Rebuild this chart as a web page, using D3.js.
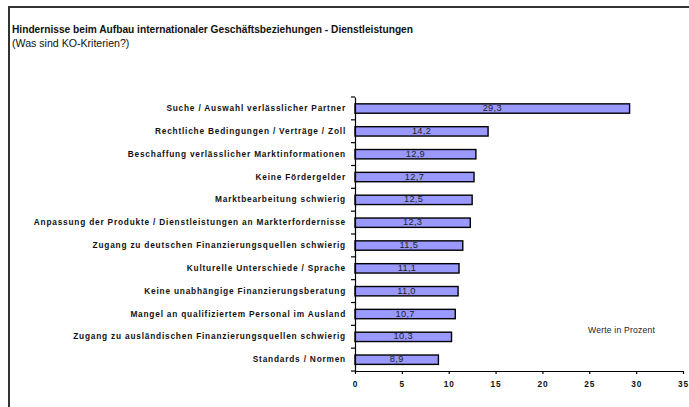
<!DOCTYPE html>
<html>
<head>
<meta charset="utf-8">
<script src="https://cdn.jsdelivr.net/npm/d3@7"></script>
<style>
  html, body { margin: 0; padding: 0; background: #fff; }
  svg { display: block; font-family: "Liberation Sans", Arial, sans-serif; }
</style>
</head>
<body>
<div id="chart"></div>
<script>
// Daten (Werte in Prozent)
const categories = [
    "Suche / Auswahl verlässlicher Partner",
    "Rechtliche Bedingungen / Verträge / Zoll",
    "Beschaffung verlässlicher Marktinformationen",
    "Keine Fördergelder",
    "Marktbearbeitung schwierig",
    "Anpassung der Produkte / Dienstleistungen an Markterfordernisse",
    "Zugang zu deutschen Finanzierungsquellen schwierig",
    "Kulturelle Unterschiede / Sprache",
    "Keine unabhängige Finanzierungsberatung",
    "Mangel an qualifiziertem Personal im Ausland",
    "Zugang zu ausländischen Finanzierungsquellen schwierig",
    "Standards / Normen"
];
const values = [29.3, 14.2, 12.9, 12.7, 12.5, 12.3, 11.5, 11.1, 11.0, 10.7, 10.3, 8.9];
const xTicks = [0, 5, 10, 15, 20, 25, 30, 35];

const title = "Hindernisse beim Aufbau internationaler Geschäftsbeziehungen - Dienstleistungen";
const subtitle = "(Was sind KO-Kriterien?)";
const note = "Werte in Prozent";

const width = 689, height = 407;

const svg = d3.select("#chart")
    .append("svg")
    .attr("width", width)
    .attr("height", height);

// Rahmen
svg.append("rect")
    .attr("x", 9)
    .attr("y", 7)
    .attr("width", 700)
    .attr("height", 420)
    .style("fill", "none")
    .style("stroke", "#333")
    .style("stroke-width", 2);

// Titel
svg.append("text")
    .attr("x", 12)
    .attr("y", 33)
    .attr("textLength", 401)
    .attr("lengthAdjust", "spacingAndGlyphs")
    .style("font-size", "11.5px")
    .style("font-weight", "bold")
    .style("fill", "#111")
    .text(title);

svg.append("text")
    .attr("x", 12)
    .attr("y", 47)
    .style("font-size", "10.6px")
    .style("fill", "#111")
    .text(subtitle);

// Skalen
const x = d3.scaleLinear()
    .domain([0, 35])
    .range([355, 683]);

const y = d3.scaleBand()
    .domain(categories)
    .range([97, 371])
    .padding(0);

const data = categories.map((c, i) => ({ label: c, value: values[i] }));

// Balken
svg.selectAll(".bar")
    .data(data)
    .enter()
    .append("rect")
    .attr("class", "bar")
    .attr("x", x(0))
    .attr("y", d => y(d.label) + y.bandwidth() * 0.3)
    .attr("width", d => x(d.value) - x(0))
    .attr("height", y.bandwidth() * 0.41)
    .style("fill", "#9999ff")
    .style("stroke", "#000")
    .style("stroke-width", 1.4);

// Werte
svg.selectAll(".val")
    .data(data)
    .enter()
    .append("text")
    .attr("class", "val")
    .attr("x", d => (x(0) + x(d.value)) / 2)
    .attr("y", d => y(d.label) + y.bandwidth() * 0.5 + 2.6)
    .attr("text-anchor", "middle")
    .style("font-size", "9.3px")
    .style("letter-spacing", "0.3px")
    .style("fill", "#222")
    .text(d => d3.format(".1f")(d.value).replace(".", ","));

// Y-Achse
const yAxis = svg.append("g")
    .attr("transform", `translate(${x(0)},0)`)
    .call(d3.axisLeft(y).tickSize(0).tickSizeOuter(0).tickPadding(9));

yAxis.select(".domain").style("stroke", "#000").style("stroke-width", 1.2);
yAxis.selectAll("text")
    .style("font-size", "8.3px")
    .style("font-weight", "bold")
    .style("letter-spacing", "0.8px")
    .style("fill", "#111");

// Trennstriche zwischen Kategorien
const bounds = categories.map(c => y(c)).concat([y.range()[1]]);
svg.selectAll(".ytick")
    .data(bounds)
    .enter()
    .append("line")
    .attr("x1", x(0) - 4)
    .attr("x2", x(0))
    .attr("y1", d => d)
    .attr("y2", d => d)
    .style("stroke", "#000")
    .style("stroke-width", 1.2);

// X-Achse
const xAxis = svg.append("g")
    .attr("transform", `translate(0,${y.range()[1]})`)
    .call(d3.axisBottom(x).tickValues(xTicks).tickSize(3).tickSizeOuter(0).tickPadding(7));

xAxis.select(".domain").style("stroke", "#000").style("stroke-width", 1.2);
xAxis.selectAll(".tick line").style("stroke", "#000").style("stroke-width", 1.2);
xAxis.selectAll("text")
    .style("font-size", "8.3px")
    .style("font-weight", "bold")
    .style("letter-spacing", "0.9px")
    .style("fill", "#111");

// Hinweis
svg.append("text")
    .attr("x", 588)
    .attr("y", 333)
    .style("font-size", "8.6px")
    .style("letter-spacing", "0.2px")
    .style("fill", "#222")
    .text(note);
</script>
</body>
</html>
